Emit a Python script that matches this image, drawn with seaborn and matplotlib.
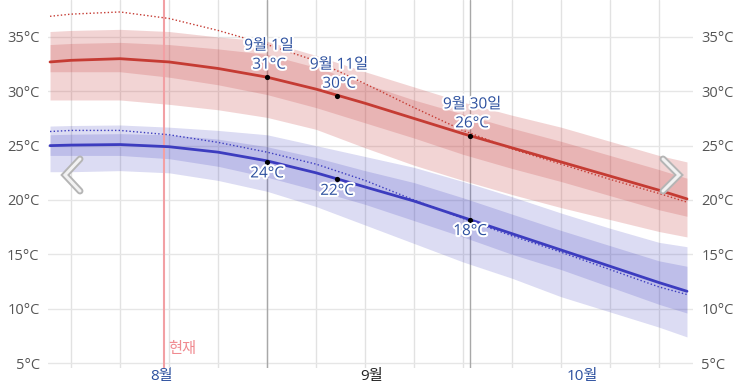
import matplotlib

matplotlib.use("Agg")

import matplotlib.dates as mdates
import matplotlib.patheffects as pe
import matplotlib.pyplot as plt
import pandas as pd
import seaborn as sns
from matplotlib.lines import Line2D


DATES = [
    "2025-08-01", "2025-08-04", "2025-08-11", "2025-08-18", "2025-08-25",
    "2025-09-01", "2025-09-08", "2025-09-15", "2025-09-22", "2025-09-29",
    "2025-10-06", "2025-10-13", "2025-10-20", "2025-10-27", "2025-10-31",
]

# daily high (red)
HIGH_MEAN = [32.7, 32.85, 33.0, 32.7, 32.1, 31.3, 30.2, 28.9, 27.5, 26.1, 24.8, 23.5, 22.2, 20.9, 20.1]
HIGH_P75 = [34.3, 34.4, 34.5, 34.3, 33.9, 33.4, 32.2, 30.7, 29.2, 27.9, 26.6, 25.4, 24.1, 22.8, 22.0]
HIGH_P25 = [31.8, 31.8, 31.8, 31.3, 30.6, 29.7, 28.5, 27.1, 25.7, 24.2, 22.9, 21.7, 20.4, 19.1, 18.5]
HIGH_P90 = [35.5, 35.6, 35.7, 35.5, 35.0, 34.6, 33.3, 31.8, 30.4, 29.0, 27.8, 26.7, 25.4, 24.1, 23.5]
HIGH_P10 = [29.2, 29.2, 29.2, 28.8, 28.3, 27.6, 26.5, 24.8, 23.2, 21.8, 20.5, 19.3, 18.2, 17.1, 16.6]
HIGH_DOTTED = [36.9, 37.1, 37.3, 36.7, 35.6, 34.3, 32.8, 30.7, 28.5, 26.4, 24.7, 23.3, 21.9, 20.6, 19.8]

# daily low (blue)
LOW_MEAN = [25.0, 25.05, 25.1, 24.9, 24.4, 23.6, 22.5, 21.2, 19.9, 18.4, 16.9, 15.4, 13.9, 12.4, 11.6]
LOW_P75 = [26.0, 26.05, 26.1, 26.0, 25.6, 24.9, 23.9, 22.7, 21.6, 20.2, 18.7, 17.2, 15.8, 14.4, 13.9]
LOW_P25 = [24.1, 24.1, 24.1, 23.8, 23.1, 22.1, 20.9, 19.6, 18.1, 16.6, 15.0, 13.6, 12.0, 10.4, 9.6]
LOW_P90 = [26.8, 26.85, 26.9, 26.7, 26.4, 26.0, 25.0, 24.0, 23.0, 21.7, 20.3, 18.8, 17.4, 16.1, 15.7]
LOW_P10 = [22.6, 22.6, 22.7, 22.5, 21.8, 20.8, 19.4, 17.7, 16.0, 14.3, 12.8, 11.1, 9.7, 8.3, 7.4]
LOW_DOTTED = [26.3, 26.4, 26.4, 26.0, 25.3, 24.4, 23.3, 21.8, 20.0, 18.3, 16.7, 15.2, 13.6, 12.0, 11.3]

HIGHLIGHT_DATES = ["2025-09-01", "2025-09-11", "2025-09-30"]
HIGHLIGHT_NAMES = ["9월 1일", "9월 11일", "9월 30일"]
HIGHLIGHT_HIGH = [31.3, 29.55, 25.9]
HIGHLIGHT_HIGH_TEXT = ["31°C", "30°C", "26°C"]
HIGHLIGHT_LOW = [23.5, 21.9, 18.2]
HIGHLIGHT_LOW_TEXT = ["24°C", "22°C", "18°C"]

MONTH_TICKS = ["2025-08-17", "2025-09-16", "2025-10-16"]
MONTH_LABELS = ["8월", "9월", "10월"]
MONTH_COLORS = ["#2b4f9e", "#222222", "#2b4f9e"]

Y_TICKS = [5, 10, 15, 20, 25, 30, 35]
NOW_DATE = "2025-08-17 06:00"
NOW_LABEL = "현재"
SELECTED_LINES = ["2025-09-01", "2025-09-30"]

RED = "#c53b33"
BLUE = "#3c3cbf"
LABEL_BLUE = "#2b4f9e"


def main():
    sns.set_style("white")
    plt.rcParams["font.family"] = ["Open Sans", "Noto Sans CJK KR", "DejaVu Sans"]

    df = pd.DataFrame(
        {
            "date": pd.to_datetime(DATES),
            "high": HIGH_MEAN,
            "high_dot": HIGH_DOTTED,
            "low": LOW_MEAN,
            "low_dot": LOW_DOTTED,
        }
    )

    fig = plt.figure(figsize=(7.33, 3.92), dpi=100)
    ax = fig.add_axes([48 / 733, (392 - 368) / 392, 645 / 733, 368 / 392])

    # bands
    ax.fill_between(df["date"], HIGH_P10, HIGH_P90, color=(0.78, 0.24, 0.24), alpha=0.22, lw=0, zorder=1)
    ax.fill_between(df["date"], HIGH_P25, HIGH_P75, color=(0.78, 0.24, 0.24), alpha=0.21, lw=0, zorder=1)
    ax.fill_between(df["date"], LOW_P10, LOW_P90, color=(0.24, 0.24, 0.75), alpha=0.18, lw=0, zorder=1)
    ax.fill_between(df["date"], LOW_P25, LOW_P75, color=(0.24, 0.24, 0.75), alpha=0.19, lw=0, zorder=1)

    sns.lineplot(data=df, x="date", y="high_dot", ax=ax, color=RED, lw=1,
                 linestyle=(0, (1, 1.6)), legend=False, zorder=3)
    sns.lineplot(data=df, x="date", y="low_dot", ax=ax, color=BLUE, lw=1,
                 linestyle=(0, (1, 1.6)), legend=False, zorder=3)
    sns.lineplot(data=df, x="date", y="high", ax=ax, color=RED, lw=2, legend=False, zorder=3)
    sns.lineplot(data=df, x="date", y="low", ax=ax, color=BLUE, lw=2, legend=False, zorder=3)

    hl_dates = pd.to_datetime(HIGHLIGHT_DATES)
    sns.scatterplot(x=hl_dates, y=HIGHLIGHT_HIGH, ax=ax, color="black", s=14, linewidth=0, zorder=5)
    sns.scatterplot(x=hl_dates, y=HIGHLIGHT_LOW, ax=ax, color="black", s=14, linewidth=0, zorder=5)

    halo = [pe.withStroke(linewidth=3, foreground="white")]
    for d, name, hv, ht, lv, lt in zip(
        hl_dates, HIGHLIGHT_NAMES, HIGHLIGHT_HIGH, HIGHLIGHT_HIGH_TEXT, HIGHLIGHT_LOW, HIGHLIGHT_LOW_TEXT
    ):
        ax.annotate(name, (d, hv), xytext=(2, 31), textcoords="offset pixels",
                    ha="center", va="center", fontsize=11, color=LABEL_BLUE,
                    path_effects=halo, zorder=6)
        ax.annotate(ht, (d, hv), xytext=(2, 12), textcoords="offset pixels",
                    ha="center", va="center", fontsize=11, color=LABEL_BLUE,
                    path_effects=halo, zorder=6)
        ax.annotate(lt, (d, lv), xytext=(0, -12), textcoords="offset pixels",
                    ha="center", va="center", fontsize=11, color=LABEL_BLUE,
                    path_effects=halo, zorder=6)

    # selected day lines and "now" marker
    for d in SELECTED_LINES:
        ax.axvline(pd.Timestamp(d), color="#a8a8a8", lw=1, zorder=0.8)
    now = pd.Timestamp(NOW_DATE)
    ax.axvline(now, color="#f2a0a4", lw=1.5, zorder=2)
    ax.annotate(NOW_LABEL, (now, 6.2), xytext=(4, 0), textcoords="offset pixels",
                ha="left", va="center", fontsize=11, color="#f08a90")

    sep1 = mdates.date2num(pd.Timestamp("2025-09-01"))
    ax.set_xlim(sep1 - 31.29, sep1 + 60.86)
    ax.set_ylim(4.54, 38.4)

    ax.set_yticks(Y_TICKS)
    ax.set_yticklabels([f"{v}°C" for v in Y_TICKS])
    ax.set_xticks(pd.to_datetime(MONTH_TICKS))
    ax.set_xticklabels(MONTH_LABELS)
    for lbl, c in zip(ax.get_xticklabels(), MONTH_COLORS):
        lbl.set_color(c)
    ax.xaxis.set_minor_locator(mdates.WeekdayLocator(byweekday=mdates.MO))

    ax.set_axisbelow(True)
    ax.grid(axis="y", which="major", color="#e6e6e6", lw=1)
    ax.grid(axis="x", which="minor", color="#e2e2e2", lw=1)
    ax.grid(axis="x", which="major", visible=False)

    ax.tick_params(axis="y", left=False, right=False, labelleft=True, labelright=True,
                   pad=2.5, labelsize=10.5, labelcolor="#555555")
    ax.tick_params(axis="x", which="both", length=0, pad=1, labelsize=11)
    ax.set_xlabel("")
    ax.set_ylabel("")
    for spine in ax.spines.values():
        spine.set_visible(False)

    # navigation chevrons
    def chevron(pts):
        xs = [p[0] / 733 for p in pts]
        ys = [1 - p[1] / 392 for p in pts]
        fig.add_artist(Line2D(xs, ys, transform=fig.transFigure, color="#b5b5b5", lw=5,
                              solid_capstyle="round", solid_joinstyle="miter", zorder=10))
        fig.add_artist(Line2D(xs, ys, transform=fig.transFigure, color="#f2f2f2", lw=2.2,
                              solid_capstyle="round", solid_joinstyle="miter", zorder=11))

    chevron([(80, 159), (65, 175), (80, 191)])
    chevron([(663, 159), (679, 175), (663, 191)])

    fig.savefig("out.png", dpi=100)
    plt.close(fig)


if __name__ == "__main__":
    main()
